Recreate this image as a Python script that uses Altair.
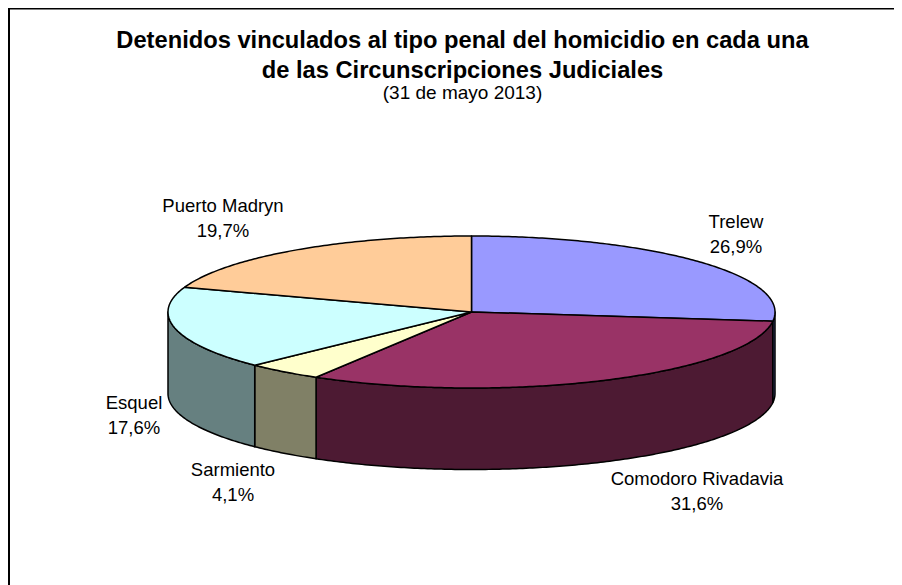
import numpy as np
import pandas as pd
import altair as alt

# --- data ---
categories = ["Trelew", "Comodoro Rivadavia", "Sarmiento", "Esquel", "Puerto Madryn"]
shares = [26.9, 31.6, 4.1, 17.6, 19.7]
share_labels = ["26,9%", "31,6%", "4,1%", "17,6%", "19,7%"]
top_colors = ["#9999FF", "#993366", "#FFFFCC", "#CCFFFF", "#FFCC99"]
side_colors = ["#4D5A9E", "#4D1A33", "#808066", "#668080", "#806633"]
title_lines = ["Detenidos vinculados al tipo penal del homicidio en cada una",
               "de las Circunscripciones Judiciales"]
subtitle_line = "(31 de mayo 2013)"

# --- layout (page pixels minus the 8px margin) ---
W, H = 886, 577
CX, CY = 463.5, 304.0   # ellipse centre
RX, RY = 303.5, 76.0    # ellipse radii
DEPTH = 81.5            # pie thickness
FONT = "Liberation Sans"
LABEL_POS = {           # label centres
    "Trelew": (728, 214), "Comodoro Rivadavia": (689, 471), "Sarmiento": (225, 462),
    "Esquel": (126, 395), "Puerto Madryn": (215, 198),
}

# The pie is drawn in radius units: x = sin(a), y = cos(a); depth in the same y units.
x_scale = alt.Scale(domain=[-CX / RX, (W - CX) / RX], range=[0, W], nice=False, zero=False)
y_scale = alt.Scale(domain=[CY / RY, (CY - H) / RY], range=[0, H], nice=False, zero=False)
d = DEPTH / RY

edges = np.cumsum([0] + shares) / sum(shares) * 2 * np.pi


def arc(a0, a1, drop=0.0):
    n = max(2, int(abs(a1 - a0) * 90))
    t = np.linspace(a0, a1, n)
    return list(zip(np.sin(t), np.cos(t) - drop))


def polygon_layer(points, fill):
    df = pd.DataFrame(points, columns=["x", "y"])
    df["o"] = range(len(df))
    return alt.Chart(df).mark_line(
        interpolate="linear-closed", fill=fill, stroke="#000000", strokeWidth=1.5,
        strokeJoin="round", clip=False,
    ).encode(
        x=alt.X("x:Q", scale=x_scale, axis=None),
        y=alt.Y("y:Q", scale=y_scale, axis=None),
        order="o:Q",
    )


layers = []
# visible side walls: the part of each slice on the front half of the pie
for i in range(len(shares)):
    a0, a1 = max(edges[i], np.pi / 2), min(edges[i + 1], 3 * np.pi / 2)
    if a1 > a0:
        layers.append(polygon_layer(arc(a0, a1) + arc(a1, a0, d), side_colors[i]))
# top faces
for i in range(len(shares)):
    layers.append(polygon_layer([(0.0, 0.0)] + arc(edges[i], edges[i + 1]), top_colors[i]))

# slice labels
lab = pd.DataFrame({
    "name": categories,
    "pct": share_labels,
    "px": [LABEL_POS[c][0] for c in categories],
    "py": [LABEL_POS[c][1] for c in categories],
})
for field, dy in (("name", 0), ("pct", 25)):
    layers.append(alt.Chart(lab).mark_text(
        font=FONT, fontSize=18.5, color="#000000", align="center", baseline="middle", dy=dy,
    ).encode(
        x=alt.X("px:Q", scale=None, axis=None),
        y=alt.Y("py:Q", scale=None, axis=None),
        text=f"{field}:N",
    ))

# frame: only the left and top edges show
frame = pd.DataFrame({"x0": [0, 1], "x1": [W, 1], "y0": [0.5, 0], "y1": [0.5, H]})
layers.append(alt.Chart(frame).mark_rule(color="#000000", strokeWidth=2).encode(
    x=alt.X("x0:Q", scale=None, axis=None), x2="x1:Q",
    y=alt.Y("y0:Q", scale=None, axis=None), y2="y1:Q",
))

chart = alt.layer(*layers).properties(
    width=W, height=H, padding=0, autosize=alt.AutoSizeParams(type="none"),
    title=alt.TitleParams(
        text=title_lines, subtitle=subtitle_line, anchor="middle", frame="group",
        font=FONT, fontSize=23.7, fontWeight="bold", color="#000000", lineHeight=30,
        subtitleFont=FONT, subtitleFontSize=19, subtitleColor="#000000", subtitlePadding=1,
        dx=11.5, dy=100,
    ),
).configure_view(stroke=None)

chart.save("out.html", embed_options={"renderer": "svg", "actions": False})
